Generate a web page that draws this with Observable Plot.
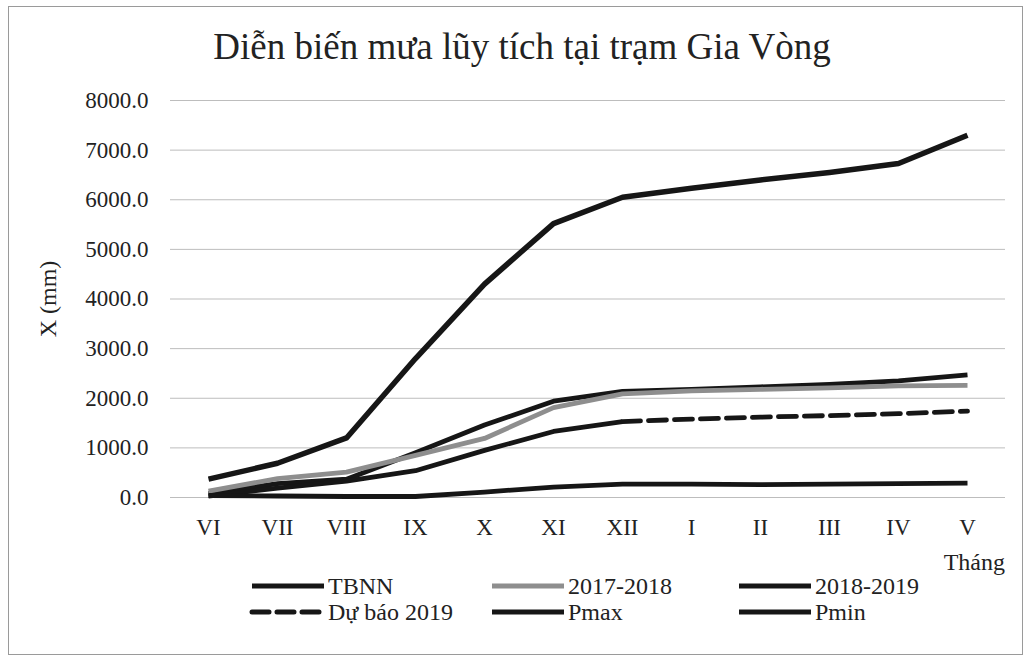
<!DOCTYPE html>
<html>
<head>
<meta charset="utf-8">
<script src="https://cdn.jsdelivr.net/npm/d3@7"></script>
<script src="https://cdn.jsdelivr.net/npm/@observablehq/plot@0.6"></script>
<style>
  html, body { margin: 0; padding: 0; background: #fff; }
  #wrap { position: relative; width: 1031px; height: 664px; overflow: hidden; font-family: "Liberation Serif", "Times New Roman", serif; }
  #wrap svg { position: absolute; left: 0; top: 0; }
  #frame { position: absolute; left: 8px; top: 6px; width: 1013px; height: 647px; border: 1px solid #9a9a9a; }
</style>
</head>
<body>
<div id="wrap"><div id="frame"></div></div>
<script>
// ---- data ----
const months = ["VI","VII","VIII","IX","X","XI","XII","I","II","III","IV","V"];
const tbnn     = [80, 280, 370, 900, 1460, 1940, 2140, 2180, 2230, 2280, 2350, 2470];
const s2017    = [130, 380, 510, 850, 1190, 1810, 2090, 2150, 2180, 2210, 2250, 2260];
const s2018    = [30, 190, 330, 540, 950, 1330, 1530];            // VI..XII
const forecast = [1530, 1580, 1620, 1650, 1690, 1740];            // XII..V
const pmax     = [370, 690, 1200, 2800, 4300, 5520, 6050, 6230, 6400, 6550, 6730, 7300];
const pmin     = [40, 30, 20, 20, 110, 210, 270, 270, 260, 270, 280, 290];
const yTicks   = [0, 1000, 2000, 3000, 4000, 5000, 6000, 7000, 8000];

const title = "Diễn biến mưa lũy tích tại trạm Gia Vòng";
const yTitle = "X (mm)";
const xTitle = "Tháng";
const seriesNames = ["TBNN", "2017-2018", "2018-2019", "Dự báo 2019", "Pmax", "Pmin"];
const seriesColors = ["#161616", "#8e8e8e", "#161616", "#161616", "#161616", "#161616"];
const seriesDash = [null, null, null, "18,8", null, null];

// ---- build table ----
function rows(name, vals, startIdx = 0) {
  return vals.map((v, i) => ({series: name, month: months[startIdx + i], value: v}));
}
const data = [
  ...rows(seriesNames[0], tbnn),
  ...rows(seriesNames[1], s2017),
  ...rows(seriesNames[2], s2018),
  ...rows(seriesNames[3], forecast, 6),
  ...rows(seriesNames[4], pmax),
  ...rows(seriesNames[5], pmin)
];

const marks = [
  Plot.gridY(yTicks, {stroke: "#bdbdbd", strokeOpacity: 1, strokeWidth: 1}),
  Plot.axisY({ticks: yTicks, tickFormat: d3.format(".1f"), tickSize: 0, tickPadding: 22, label: null, fontSize: 23}),
  Plot.axisX({tickSize: 0, tickPadding: 21, label: null, fontSize: 23})
];
seriesNames.forEach((name, i) => {
  marks.push(Plot.line(data.filter(d => d.series === name), {
    x: "month", y: "value",
    stroke: seriesColors[i],
    strokeWidth: name === "Pmax" ? 5.5 : 4.8,
    strokeDasharray: seriesDash[i] || undefined,
    strokeLinecap: seriesDash[i] ? "round" : "butt",
    strokeLinejoin: "round"
  }));
});

const chart = Plot.plot({
  width: 1031,
  height: 664,
  marginLeft: 170,
  marginRight: 26,
  marginTop: 100,
  marginBottom: 167,
  style: {fontFamily: "'Liberation Serif', 'Times New Roman', serif", fontSize: "23px", color: "#222", background: "transparent"},
  x: {type: "point", domain: months, padding: 0.5},
  y: {domain: [0, 8000]},
  marks
});
const wrap = document.getElementById("wrap");
wrap.appendChild(chart);

// ---- overlay: title, axis titles, legend ----
const ov = d3.select(wrap).append("svg")
  .attr("width", 1031).attr("height", 664)
  .style("font-family", "'Liberation Serif', 'Times New Roman', serif")
  .style("fill", "#222");

ov.append("text").attr("x", 522).attr("y", 59).attr("text-anchor", "middle")
  .style("font-size", "37px").text(title);

ov.append("text").attr("transform", "translate(56,299) rotate(-90)").attr("text-anchor", "middle")
  .style("font-size", "24px").text(yTitle);

ov.append("text").attr("x", 1005).attr("y", 570).attr("text-anchor", "end")
  .style("font-size", "24px").text(xTitle);

const legCols = [252, 492, 739];
const legRows = [586, 612];
seriesNames.forEach((name, i) => {
  const cx = legCols[i % 3], cy = legRows[Math.floor(i / 3)];
  ov.append("line").attr("x1", cx).attr("x2", cx + 72).attr("y1", cy).attr("y2", cy)
    .attr("stroke", seriesColors[i]).attr("stroke-width", 5)
    .attr("stroke-dasharray", seriesDash[i] ? "17,8" : null)
    .attr("stroke-linecap", seriesDash[i] ? "round" : "butt");
  ov.append("text").attr("x", cx + 76).attr("y", cy).attr("dy", "0.35em")
    .style("font-size", "24px").text(name);
});
</script>
</body>
</html>
